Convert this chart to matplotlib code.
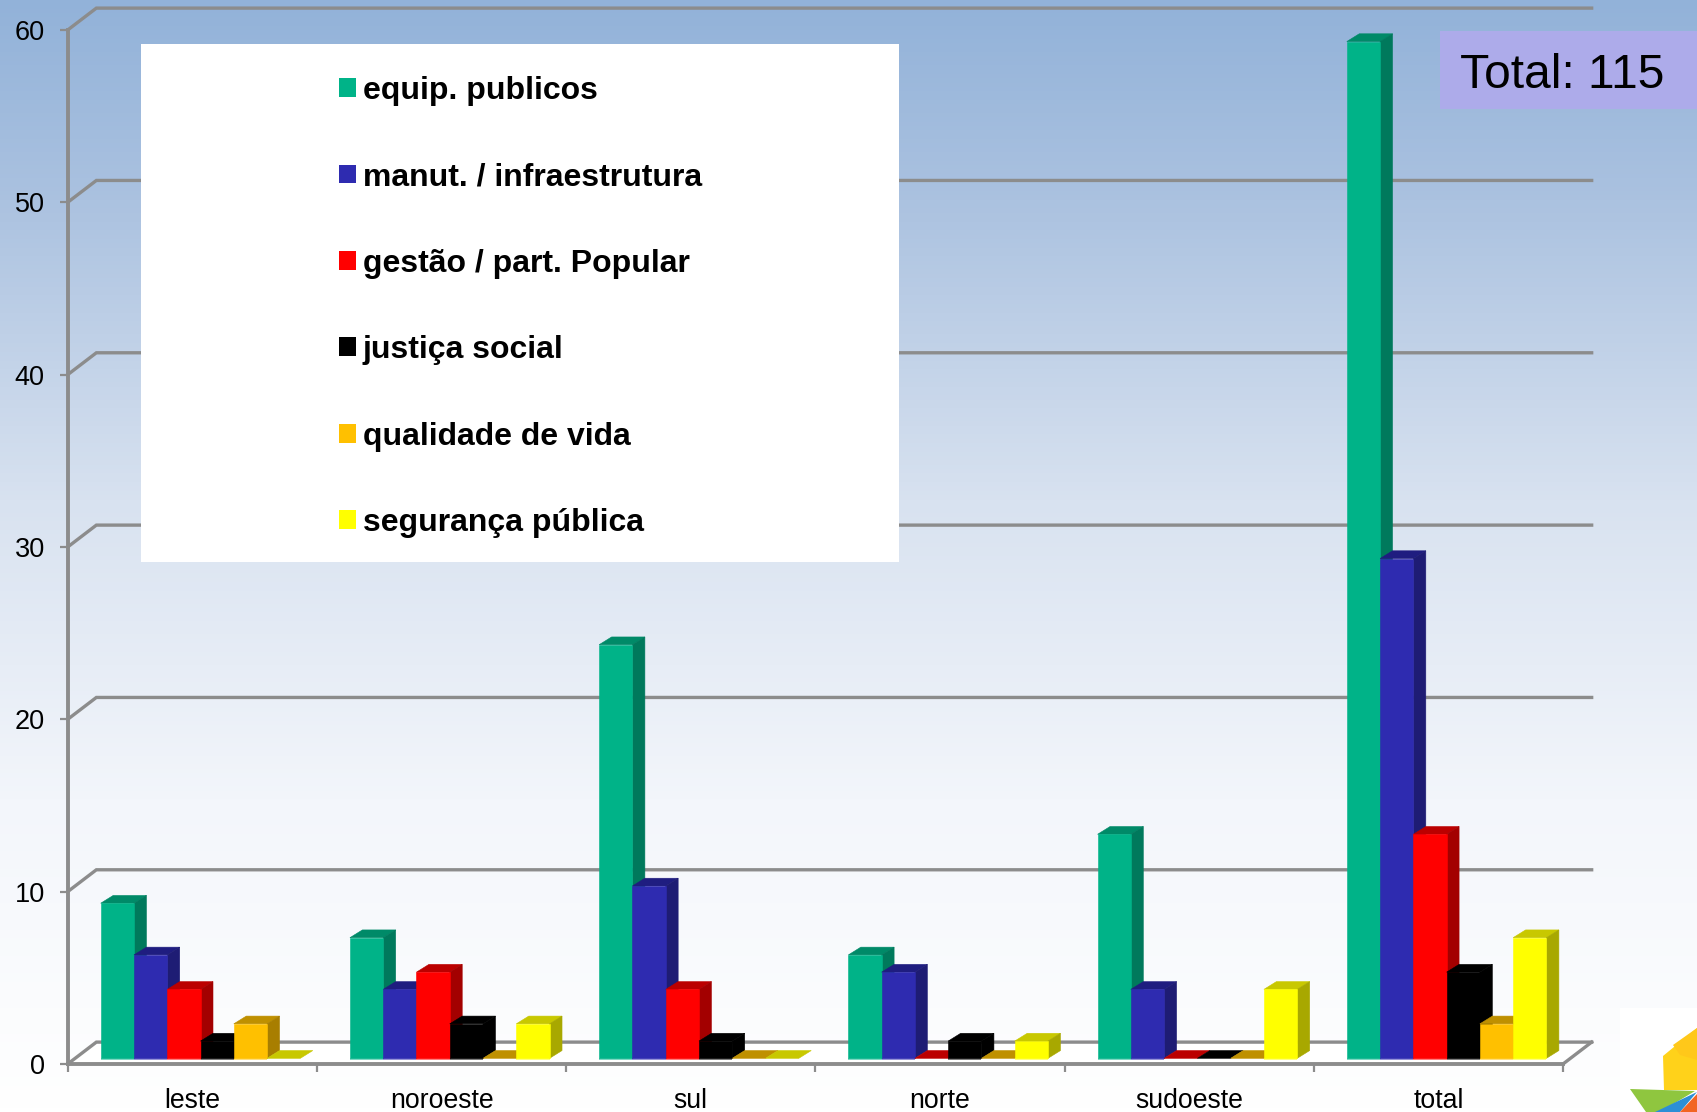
import matplotlib
matplotlib.use('Agg')
import matplotlib.pyplot as plt
from matplotlib.patches import Patch, Polygon, Rectangle
from matplotlib.colors import LinearSegmentedColormap
import numpy as np

plt.rcParams['font.family'] = ['Liberation Sans', 'DejaVu Sans']

regions = ['leste', 'noroeste', 'sul', 'norte', 'sudoeste', 'total']
themes = ['equip. publicos', 'manut. / infraestrutura', 'gestão / part. Popular',
          'justiça social', 'qualidade de vida', 'segurança pública']

equip = [9, 7, 24, 6, 13, 59]
manut = [6, 4, 10, 5, 4, 29]
gestao = [4, 5, 4, 0, 0, 13]
justica = [1, 2, 1, 1, 0, 5]
qualidade = [2, 0, 0, 0, 0, 2]
seguranca = [0, 2, 0, 1, 4, 7]
series = [equip, manut, gestao, justica, qualidade, seguranca]

y_ticks = [0, 10, 20, 30, 40, 50, 60]

front_colors = ['#00B388', '#2E2BB0', '#FF0000', '#000000', '#FFC000', '#FFFF00']
side_colors = ['#00795C', '#1E1C74', '#A30000', '#000000', '#A87E00', '#A8A800']
top_colors = ['#008A68', '#1F1D80', '#BB0000', '#000000', '#BF9000', '#C8C800']
grid_color = '#8C8C8C'

W, H = 1697, 1112
fig = plt.figure(figsize=(W / 100, H / 100), dpi=100)

# background gradient, whole figure
bg = fig.add_axes([0, 0, 1, 1], zorder=0)
bg.set_axis_off()
cmap = LinearSegmentedColormap.from_list('bg', [(0, '#92B2D9'), (0.18, '#ABC2E0'), (0.45, '#D8E2F0'),
                                                (0.72, '#F3F6FB'), (1, '#FFFFFF')])
bg.imshow(np.linspace(0, 1, 256).reshape(-1, 1), aspect='auto', cmap=cmap, extent=(0, 1, 0, 1))

# front plane of the chart
left, right, top, bottom = 67.7, 1563, 30, 1064
ax = fig.add_axes([left / W, 1 - bottom / H, (right - left) / W, (bottom - top) / H], zorder=1)
ax.patch.set_alpha(0)
ax.set_xlim(0, 6)
ax.set_ylim(0, 60)

wall_dx, wall_dy = 0.115, 1.27
floor = 0.33
bar_w = 0.1335
bar_start = 0.1325
depth_x, depth_y = 0.05, 0.45


def face(points, color, z):
    # same colour edge so neighbouring faces leave no seam
    ax.add_patch(Polygon(points, closed=True, facecolor=color, edgecolor=color, lw=0.4, zorder=z, clip_on=False))


# floor and walls
ax.add_patch(Polygon([(0, 0), (wall_dx, wall_dy), (6 + wall_dx, wall_dy), (6, 0)], closed=True,
                     facecolor='white', edgecolor='none', zorder=1, clip_on=False))
for v in y_ticks:
    ax.plot([0, wall_dx, 6 + wall_dx], [v, v + wall_dy, v + wall_dy], color=grid_color,
            lw=2.4, zorder=2, clip_on=False, solid_joinstyle='miter')
ax.plot([6, 6 + wall_dx], [0, wall_dy], color=grid_color, lw=2.4, zorder=2, clip_on=False)

# bars, left to right so later ones cover the side of earlier ones
z = 3
for g in range(len(regions)):
    for s in range(len(series)):
        v = series[s][g]
        x0 = g + bar_start + s * bar_w
        x1 = x0 + bar_w
        y0 = floor
        y1 = floor + v
        face([(x0, y1), (x0 + depth_x, y1 + depth_y), (x1 + depth_x, y1 + depth_y), (x1, y1)], top_colors[s], z)
        if v > 0:
            face([(x1, y0), (x1 + depth_x, y0 + depth_y), (x1 + depth_x, y1 + depth_y), (x1, y1)], side_colors[s], z)
            ax.bar(x0, v, bar_w, bottom=y0, align='edge', color=front_colors[s], edgecolor=front_colors[s],
                   lw=0.4, zorder=z + 1, clip_on=False)
            ax.bar(x0, 0.12, bar_w, bottom=y0 - 0.12, align='edge', color=front_colors[s], alpha=0.5,
                   zorder=z + 1, clip_on=False)
        z += 2

for name in ['top', 'right']:
    ax.spines[name].set_visible(False)
for name in ['left', 'bottom']:
    ax.spines[name].set_color(grid_color)
    ax.spines[name].set_linewidth(2.8)
    ax.spines[name].set_zorder(2)

ax.set_yticks(y_ticks)
ax.set_xticks(range(7))
ax.set_xticklabels([])
ax.set_xticks(np.arange(6) + 0.5, minor=True)
ax.set_xticklabels(regions, minor=True)
ax.tick_params(axis='y', length=6, width=1.6, color=grid_color, labelsize=19.5, pad=10.5, labelcolor='black')
ax.tick_params(axis='x', which='major', length=6, width=1.6, color=grid_color)
ax.tick_params(axis='x', which='minor', length=0, labelsize=19.2, pad=17, labelcolor='black')

# legend box, total box and logo in pixel coordinates
over = fig.add_axes([0, 0, 1, 1], zorder=2)
over.set_axis_off()
over.patch.set_alpha(0)
over.set_xlim(0, W)
over.set_ylim(H, 0)

over.add_patch(Rectangle((141, 44), 758, 518, facecolor='white', edgecolor='none'))
handles = [Patch(facecolor=c, edgecolor='none') for c in front_colors]
over.legend(handles, themes, loc='upper left', bbox_to_anchor=(339, 76), bbox_transform=over.transData,
            frameon=False, borderpad=0, borderaxespad=0, prop={'weight': 'bold', 'size': 23},
            handlelength=0.53, handleheight=0.53, handletextpad=0.22, labelspacing=1.765)

over.add_patch(Rectangle((1440, 31), 257, 78, facecolor='#ADABEA', edgecolor='none'))
over.text(1460, 75, 'Total: 115', fontsize=34.5, color='black', va='center', ha='left')

# logo corner
over.add_patch(Rectangle((1620, 1008), 77, 104, facecolor='white', edgecolor='none'))
over.add_patch(Polygon([(1663, 1056), (1697, 1028), (1697, 1090), (1664, 1090)], facecolor='#FFD21A', edgecolor='none'))
over.add_patch(Polygon([(1673, 1045), (1697, 1028), (1697, 1060), (1680, 1055)], facecolor='#FFC81A', edgecolor='none'))
over.add_patch(Polygon([(1630, 1089), (1695, 1091), (1660, 1112), (1646, 1112)], facecolor='#8FC63F', edgecolor='none'))
over.add_patch(Polygon([(1655, 1112), (1697, 1092), (1680, 1112)], facecolor='#2C8FD6', edgecolor='none'))
over.add_patch(Polygon([(1680, 1112), (1697, 1094), (1697, 1112)], facecolor='#F26522', edgecolor='none'))

fig.savefig('out.png', dpi=100)
